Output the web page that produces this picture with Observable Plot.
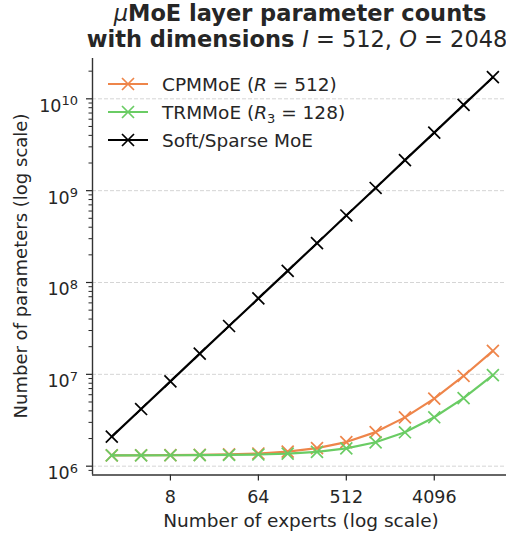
<!DOCTYPE html>
<html><head><meta charset="utf-8">
<script src="https://cdn.jsdelivr.net/npm/d3@7"></script>
<script src="https://cdn.jsdelivr.net/npm/@observablehq/plot@0.6"></script>
<style>body{margin:0;background:#fff;font-family:"DejaVu Sans",sans-serif}#chart svg{display:block}</style>
</head><body><div id="chart"></div>
<script>
// ---- data ----
const experts = [2, 4, 8, 16, 32, 64, 128, 256, 512, 1024, 2048, 4096, 8192, 16384];
const cpmmoe = [1.31e6, 1.315e6, 1.32e6, 1.33e6, 1.345e6, 1.375e6, 1.44e6, 1.57e6, 1.83e6, 2.35e6, 3.4e6, 5.45e6, 9.6e6, 1.8e7];
const trmmoe = [1.31e6, 1.31e6, 1.315e6, 1.32e6, 1.325e6, 1.34e6, 1.37e6, 1.43e6, 1.56e6, 1.82e6, 2.34e6, 3.41e6, 5.5e6, 9.8e6];
const softMoe = [2.1e6, 4.19e6, 8.39e6, 1.68e7, 3.36e7, 6.71e7, 1.34e8, 2.68e8, 5.37e8, 1.07e9, 2.15e9, 4.29e9, 8.59e9, 1.72e10];
const xTicks = [8, 64, 512, 4096];
const yTicks = [1e6, 1e7, 1e8, 1e9, 1e10];
const seriesNames = ["CPMMoE", "TRMMoE", "Soft/Sparse MoE"];
const seriesColors = ["#ee854a", "#6acc64", "#000000"];

const seriesValues = [cpmmoe, trmmoe, softMoe];
const data = [];
seriesValues.forEach((vals, i) => vals.forEach((v, j) => data.push({series: seriesNames[i], n: experts[j], p: v})));

const W = 506, H = 536;
const xDomain = [2 ** 0.342, 2 ** 14.464];
const yDomain = [10 ** 5.904, 10 ** 10.439];
const minor = [];
for (let e = 5; e <= 10; e++) for (let m = 2; m <= 9; m++) { const v = m * 10 ** e; if (v >= yDomain[0] && v <= yDomain[1]) minor.push(v); }

const txt = "#262626";
const marks = [
  Plot.gridY(yTicks, {stroke: "#d0d0d0", strokeOpacity: 1, strokeWidth: 0.9, strokeDasharray: "4,2"}),
  Plot.axisY(minor, {tickSize: 3.5, tickFormat: () => "", stroke: txt, strokeWidth: 1, label: null}),
  Plot.axisY(yTicks, {tickSize: 6, tickPadding: 8.5, tickFormat: d => "10^" + Math.round(Math.log10(d)), stroke: txt, strokeWidth: 1.2, label: null, fontSize: 17.5, fill: txt}),
  Plot.axisX(xTicks, {tickSize: 6, tickPadding: 9.5, tickFormat: d => String(d), stroke: txt, strokeWidth: 1.2, label: null, fontSize: 17.5, fill: txt}),
  Plot.ruleX([xDomain[0]], {stroke: "#333", strokeWidth: 1.4}),
  Plot.ruleY([yDomain[0]], {stroke: "#333", strokeWidth: 1.4})
];
seriesNames.forEach(name => {
  const sub = data.filter(d => d.series === name);
  marks.push(Plot.line(sub, {x: "n", y: "p", stroke: "series", strokeWidth: 2.2}));
  marks.push(Plot.dot(sub, {x: "n", y: "p", stroke: "series", symbol: "times", r: 5.5, strokeWidth: 1.7}));
});

const chart = Plot.plot({
  width: W, height: H,
  marginLeft: 92, marginTop: 58, marginBottom: H - 474.5, marginRight: 0,
  style: {fontFamily: "DejaVu Sans", fontSize: "17px", color: txt, background: "#fff", overflow: "visible"},
  x: {type: "log", base: 2, domain: xDomain},
  y: {type: "log", domain: yDomain},
  color: {domain: seriesNames, range: seriesColors},
  marks
});
document.getElementById("chart").appendChild(chart);

const svg = d3.select(chart);
// superscript exponents on y tick labels
svg.selectAll('g[aria-label="y-axis tick label"] text').each(function () {
  const s = this.textContent;
  if (!s.includes("^")) return;
  const [b, e] = s.split("^");
  const t = d3.select(this);
  t.text(null).attr("dy", "0.42em");
  t.append("tspan").text(b);
  t.append("tspan").attr("dy", "-0.5em").attr("font-size", "13px").text(e);
});

// title
const title = svg.append("text").attr("text-anchor", "middle").attr("fill", txt)
  .attr("font-family", "DejaVu Sans").attr("font-size", 22.5);
const l1 = title.append("tspan").attr("x", 300).attr("y", 21);
l1.append("tspan").attr("font-style", "italic").text("μ");
l1.append("tspan").attr("font-weight", "bold").text("MoE layer parameter counts");
const l2 = title.append("tspan").attr("x", 297).attr("y", 47);
l2.append("tspan").attr("font-weight", "bold").text("with dimensions ");
l2.append("tspan").attr("font-style", "italic").text("I");
l2.append("tspan").text(" = 512, ");
l2.append("tspan").attr("font-style", "italic").text("O");
l2.append("tspan").text(" = 2048");

// axis labels
svg.append("text").attr("x", 301).attr("y", 527).attr("text-anchor", "middle")
  .attr("font-size", 18.5).attr("fill", txt).attr("font-family", "DejaVu Sans")
  .text("Number of experts (log scale)");
svg.append("text").attr("transform", "translate(26.5,266) rotate(-90)").attr("text-anchor", "middle")
  .attr("font-size", 18).attr("fill", txt).attr("font-family", "DejaVu Sans")
  .text("Number of parameters (log scale)");

// legend
const legendRows = [
  {parts: [["CPMMoE (", null], ["R", "italic"], [" = 512)", null]]},
  {parts: [["TRMMoE (", null], ["R", "italic"], ["3", "sub"], [" = 128)", "after"]]},
  {parts: [["Soft/Sparse MoE", null]]}
];
const lg = svg.append("g");
legendRows.forEach((row, i) => {
  const y = 84 + i * 28;
  const c = seriesColors[i];
  lg.append("line").attr("x1", 108).attr("x2", 148).attr("y1", y).attr("y2", y).attr("stroke", c).attr("stroke-width", 2.2);
  lg.append("path").attr("d", `M122,${y - 6}L134,${y + 6}M122,${y + 6}L134,${y - 6}`).attr("stroke", c).attr("stroke-width", 1.7);
  const t = lg.append("text").attr("x", 162).attr("y", y + 6.5).attr("text-anchor", "start")
    .attr("font-size", 18.5).attr("fill", txt).attr("font-family", "DejaVu Sans");
  row.parts.forEach(([s, st]) => {
    const sp = t.append("tspan").text(s);
    if (st === "italic") sp.attr("font-style", "italic");
    if (st === "sub") sp.attr("font-size", "13px").attr("dy", "4");
    if (st === "after") sp.attr("dy", "-4");
  });
});
</script></body></html>
